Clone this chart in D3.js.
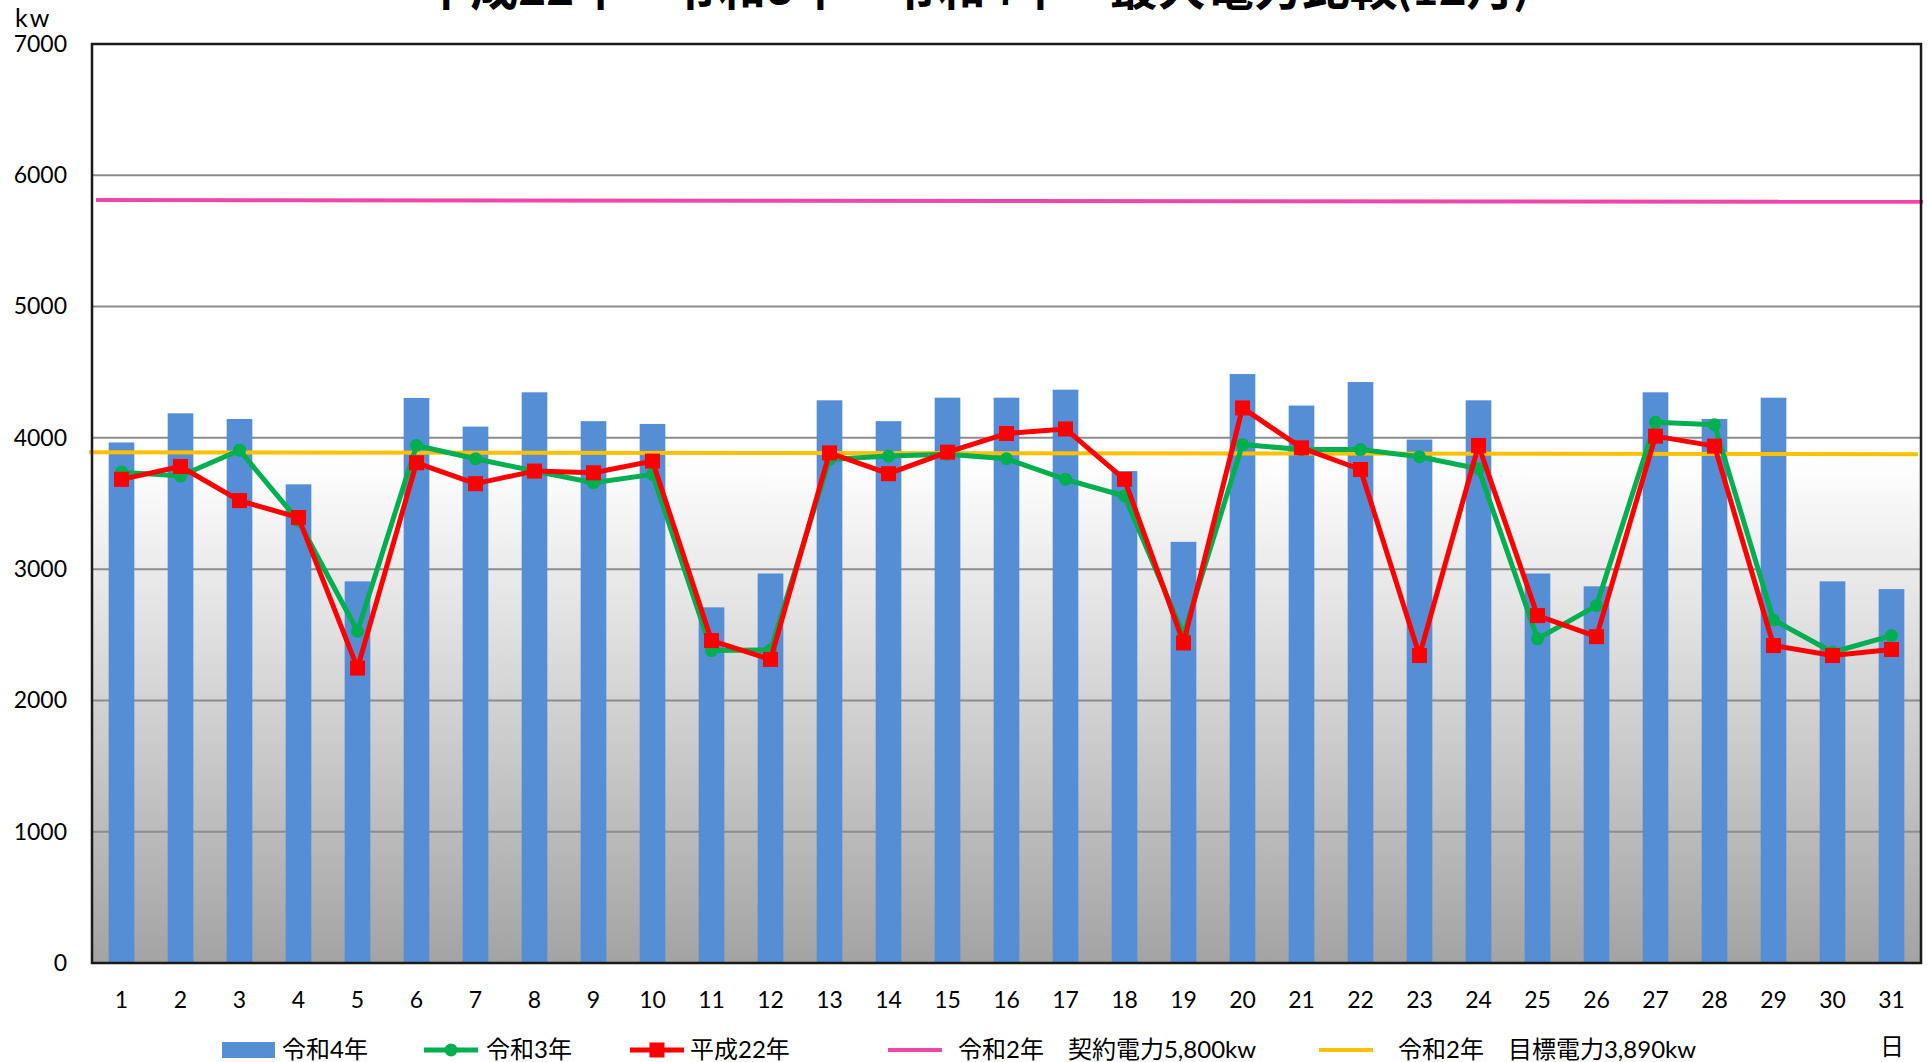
<!DOCTYPE html>
<html>
  <head>
    <meta charset="utf-8">
    <script src="https://d3js.org/d3.v7.min.js"></script>
    <title>最大電力比較(12月)</title>
    <style>
      body { margin: 0; background: #fff; }
      text { font-family: Lato, 'Noto Sans CJK JP', sans-serif; fill: #000; }
    </style>
  </head>
  <body>
    <svg width="1928" height="1062"></svg>
    <script>
      // chart values (kw)
      const days = ['1','2','3','4','5','6','7','8','9','10','11','12','13','14','15','16',
                    '17','18','19','20','21','22','23','24','25','26','27','28','29','30','31'];
      const reiwa4 = [3965, 4187, 4144, 3646, 2907, 4304, 4086, 4347, 4127, 4106, 2709, 2967, 4286, 4127, 4306, 4306,
                      4367, 3747, 3208, 4486, 4246, 4425, 3987, 4286, 2967, 2869, 4347, 4144, 4306, 2907, 2848];
      const reiwa3 = [3739, 3709, 3906, 3367, 2527, 3942, 3841, 3747, 3658, 3722, 2380, 2385, 3835, 3861, 3875, 3841,
                      3684, 3557, 2500, 3949, 3911, 3911, 3856, 3765, 2469, 2722, 4119, 4099, 2613, 2367, 2494];
      const heisei22 = [3684, 3782, 3522, 3393, 2246, 3810, 3651, 3747, 3734, 3823, 2456, 2312, 3886, 3727, 3891, 4033,
                        4068, 3684, 2438, 4228, 3924, 3759, 2342, 3942, 2646, 2486, 4013, 3937, 2418, 2342, 2388];
      const contractLine = [5812, 5798];   // 契約電力 start / end
      const targetLine = [3890, 3876];     // 目標電力 start / end
      const yTicks = [0, 1000, 2000, 3000, 4000, 5000, 6000, 7000];
      const legendLabels = ['令和4年', '令和3年', '平成22年', '令和2年　契約電力5,800kw', '令和2年　目標電力3,890kw'];
      const title = '平成22年　令和3年　令和4年　最大電力比較(12月)';

      const colors = { bar: '#558ed5', green: '#00b050', red: '#ff0000', pink: '#f046aa', orange: '#ffc000' };
      const plot = { left: 92, right: 1921, top: 44, bottom: 963 };

      const svg = d3.select('svg');

      const x = d3.scaleBand().domain(days).range([plot.left, plot.right]).padding(0);
      const y = d3.scaleLinear().domain([0, 7000]).range([plot.bottom, plot.top]);
      const barW = x.bandwidth() * 0.435;
      const cx = i => x(days[i]) + x.bandwidth() / 2;

      // plot background gradient
      const grad = svg.append('defs').append('linearGradient')
          .attr('id', 'bg').attr('x1', 0).attr('x2', 0).attr('y1', 0).attr('y2', 1);
      grad.append('stop').attr('offset', '0%').attr('stop-color', '#ffffff');
      grad.append('stop').attr('offset', '45%').attr('stop-color', '#ffffff');
      grad.append('stop').attr('offset', '100%').attr('stop-color', '#a3a3a3');

      svg.append('rect')
          .attr('x', plot.left).attr('y', plot.top)
          .attr('width', plot.right - plot.left).attr('height', plot.bottom - plot.top)
          .attr('fill', 'url(#bg)');

      // gridlines
      svg.append('g').selectAll('line').data(yTicks.slice(1, -1))
        .enter().append('line')
          .attr('x1', plot.left).attr('x2', plot.right)
          .attr('y1', d => y(d)).attr('y2', d => y(d))
          .attr('stroke', '#8c8c8c').attr('stroke-width', 2);

      // bars
      svg.append('g').selectAll('rect').data(reiwa4)
        .enter().append('rect')
          .attr('x', (d, i) => cx(i) - barW / 2)
          .attr('y', d => y(d))
          .attr('width', barW)
          .attr('height', d => y(0) - y(d))
          .attr('fill', colors.bar);

      // reference lines across the plot
      const refLine = d3.line()
          .x((d, i) => i === 0 ? plot.left + 4 : plot.right + 2)
          .y(d => y(d));
      svg.append('path').attr('d', refLine(contractLine))
          .attr('fill', 'none').attr('stroke', colors.pink).attr('stroke-width', 4);
      svg.append('path')
          .attr('d', d3.line().x((d, i) => i === 0 ? plot.left - 3 : plot.right - 3).y(d => y(d))(targetLine))
          .attr('fill', 'none').attr('stroke', colors.orange).attr('stroke-width', 4);

      const line = d3.line().x((d, i) => cx(i)).y(d => y(d));

      // 令和3年
      svg.append('path').attr('d', line(reiwa3))
          .attr('fill', 'none').attr('stroke', colors.green).attr('stroke-width', 5)
          .attr('stroke-linejoin', 'round');
      svg.append('g').selectAll('circle').data(reiwa3)
        .enter().append('circle')
          .attr('cx', (d, i) => cx(i)).attr('cy', d => y(d)).attr('r', 6.5)
          .attr('fill', colors.green);

      // 平成22年
      svg.append('path').attr('d', line(heisei22))
          .attr('fill', 'none').attr('stroke', colors.red).attr('stroke-width', 5)
          .attr('stroke-linejoin', 'round');
      svg.append('g').selectAll('rect').data(heisei22)
        .enter().append('rect')
          .attr('x', (d, i) => cx(i) - 7.5).attr('y', d => y(d) - 7.5)
          .attr('width', 15).attr('height', 15)
          .attr('fill', colors.red);

      // plot frame
      svg.append('rect')
          .attr('x', plot.left).attr('y', plot.top)
          .attr('width', plot.right - plot.left).attr('height', plot.bottom - plot.top)
          .attr('fill', 'none').attr('stroke', '#1a1a1a').attr('stroke-width', 2.5);

      // axes
      const yAxis = svg.append('g')
          .attr('transform', `translate(${plot.left},0)`)
          .call(d3.axisLeft(y).tickValues(yTicks).tickFormat(d3.format('d')).tickSize(0).tickPadding(25));
      const xAxis = svg.append('g')
          .attr('transform', `translate(0,${plot.bottom})`)
          .call(d3.axisBottom(x).tickSize(0).tickPadding(29));
      [yAxis, xAxis].forEach(a => {
        a.select('.domain').remove();
        a.selectAll('text').attr('font-size', 23)
          .style('font-family', "Lato, 'Noto Sans CJK JP', sans-serif").attr('fill', '#000');
      });

      svg.append('text').attr('x', 15).attr('y', 27)
          .attr('font-size', 25).attr('letter-spacing', 2).text('kw');
      svg.append('text').attr('x', 1892).attr('y', 1055)
          .attr('text-anchor', 'middle').attr('font-size', 24).text('日');

      svg.append('text').attr('x', 975).attr('y', 5)
          .attr('text-anchor', 'middle').attr('font-size', 48).attr('font-weight', 'bold')
          .text(title);

      // legend
      const legendX = [222, 424, 630, 888, 1319];
      const legendTextX = [282, 486, 690, 958, 1398];
      const ly = 1050;
      const lg = svg.append('g');
      lg.append('rect').attr('x', legendX[0]).attr('y', ly - 8).attr('width', 53).attr('height', 16)
          .attr('fill', colors.bar);
      [[1, colors.green], [2, colors.red], [3, colors.pink], [4, colors.orange]].forEach(([k, c]) => {
        lg.append('line')
            .attr('x1', legendX[k]).attr('x2', legendX[k] + 54)
            .attr('y1', ly).attr('y2', ly)
            .attr('stroke', c).attr('stroke-width', k < 3 ? 5 : 4);
      });
      lg.append('circle').attr('cx', legendX[1] + 27).attr('cy', ly).attr('r', 6.5).attr('fill', colors.green);
      lg.append('rect').attr('x', legendX[2] + 19.5).attr('y', ly - 7.5).attr('width', 15).attr('height', 15)
          .attr('fill', colors.red);
      lg.selectAll('text.lbl').data(legendLabels)
        .enter().append('text')
          .attr('class', 'lbl')
          .attr('x', (d, i) => legendTextX[i]).attr('y', ly + 8)
          .attr('font-size', 24)
          .text(d => d);
    </script>
  </body>
</html>
